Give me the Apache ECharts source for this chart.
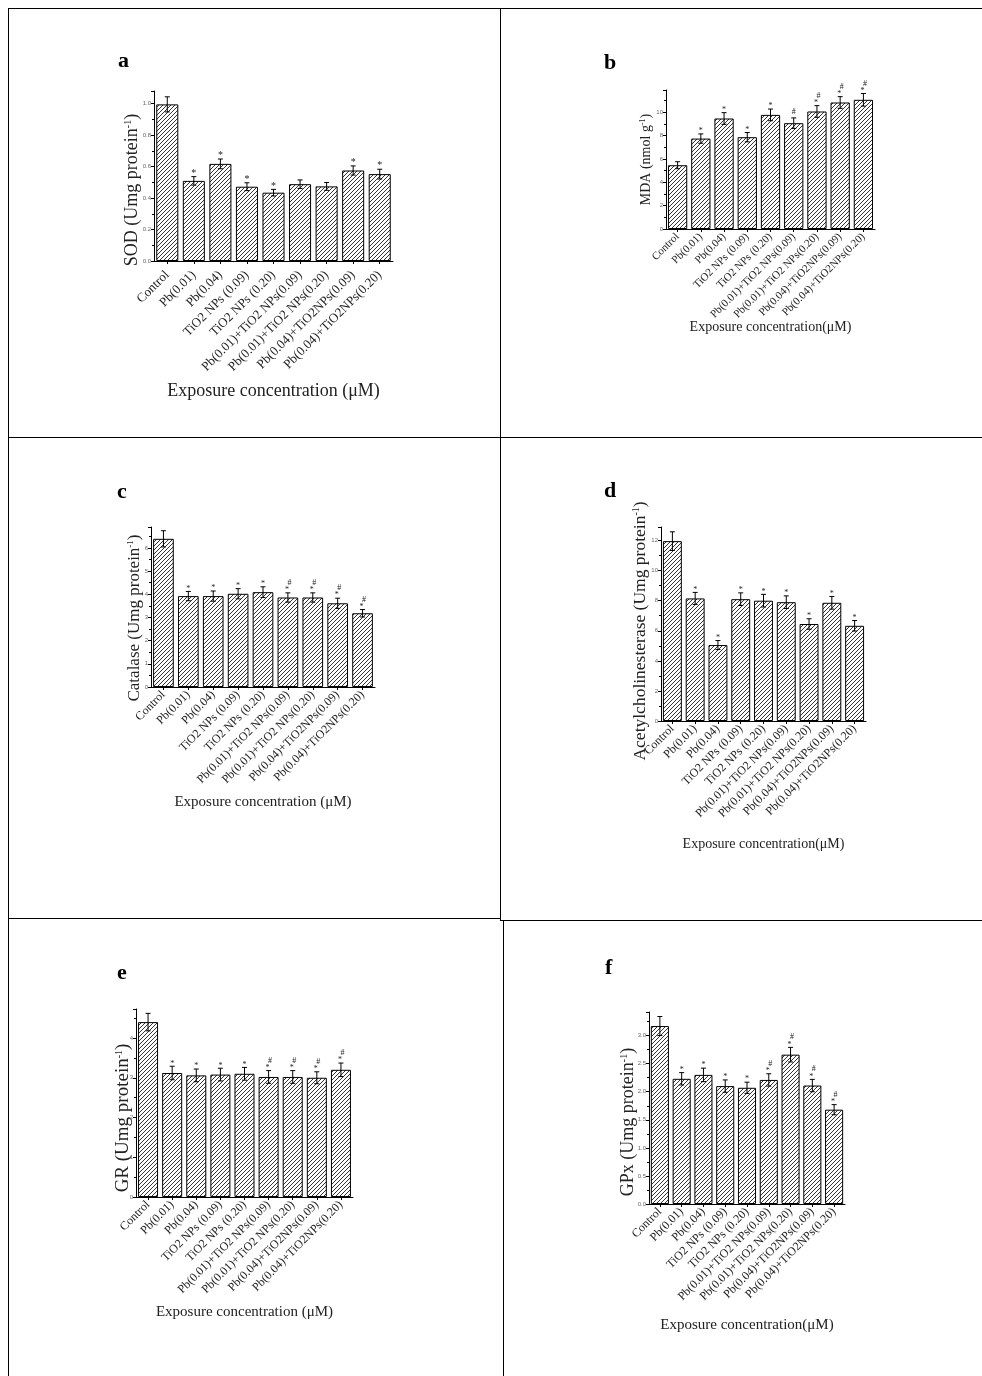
<!DOCTYPE html>
<html><head><meta charset="utf-8">
<script src="https://cdn.jsdelivr.net/npm/echarts@6/dist/echarts.min.js"></script>
<style>html,body{margin:0;padding:0;background:#fff}#c{width:982px;height:1376px}</style>
</head><body><div id="c"></div>
<script>
const categories = ['Control','Pb(0.01)','Pb(0.04)','TiO2 NPs (0.09)','TiO2 NPs (0.20)','Pb(0.01)+TiO2 NPs(0.09)','Pb(0.01)+TiO2 NPs(0.20)','Pb(0.04)+TiO2NPs(0.09)','Pb(0.04)+TiO2NPs(0.20)'];

const sodValues = [0.995,0.509,0.617,0.472,0.434,0.488,0.474,0.575,0.552];
const sodErrors = [0.048,0.027,0.031,0.025,0.021,0.027,0.025,0.029,0.031];
const sodMarks  = ['','*','*','*','*','','','*','*'];

const mdaValues = [5.46,7.74,9.46,7.86,9.77,9.06,10.06,10.83,11.06];
const mdaErrors = [0.30,0.40,0.50,0.40,0.50,0.45,0.50,0.50,0.54];
const mdaMarks  = ['','*','*','*','*','#','*#','*#','*#'];

const catValues = [6.39,3.92,3.92,4.02,4.09,3.86,3.86,3.61,3.18];
const catErrors = [0.35,0.20,0.22,0.22,0.23,0.20,0.20,0.22,0.16];
const catMarks  = ['','*','*','*','*','*#','*#','*#','*#'];

const acheValues = [11.96,8.15,5.05,8.10,8.00,7.90,6.45,7.86,6.33];
const acheErrors = [0.62,0.40,0.30,0.42,0.42,0.42,0.35,0.42,0.35];
const acheMarks  = ['','*','*','*','*','*','*','*','*'];

const grValues = [4.40,3.12,3.06,3.08,3.10,3.02,3.02,3.00,3.20];
const grErrors = [0.22,0.17,0.16,0.16,0.16,0.16,0.16,0.15,0.17];
const grMarks  = ['','*','*','*','*','*#','*#','*#','*#'];

const gpxValues = [3.17,2.23,2.30,2.10,2.07,2.21,2.66,2.11,1.68];
const gpxErrors = [0.17,0.11,0.12,0.11,0.10,0.11,0.13,0.11,0.09];
const gpxMarks  = ['','*','*','*','*','*#','*#','*#','*#'];

const panelLetters = ['a','b','c','d','e','f'];
const yTitles = ['SOD (Umg protein{sup|-1})','MDA (nmol g{sup|-1})','Catalase (Umg protein{sup|-1})','Acetylcholinesterase (Umg protein{sup|-1})','GR (Umg protein{sup|-1})','GPx (Umg protein{sup|-1})'];
const xTitles = ['Exposure concentration (\u03bcM)','Exposure concentration(\u03bcM)','Exposure concentration (\u03bcM)','Exposure concentration(\u03bcM)','Exposure concentration (\u03bcM)','Exposure concentration(\u03bcM)'];
const yMax = [1.08, 11.9, 6.9, 12.9, 4.73, 3.42];
const yInterval = [0.2, 2, 1, 2, 1, 0.5];
const yDecimals = [1, 0, 0, 0, 0, 1];

const seriesData = [
  [sodValues, sodErrors, sodMarks],
  [mdaValues, mdaErrors, mdaMarks],
  [catValues, catErrors, catMarks],
  [acheValues, acheErrors, acheMarks],
  [grValues, grErrors, grMarks],
  [gpxValues, gpxErrors, gpxMarks]
];

// layout (pixels)
const layout = [
  {left:154, top:91,   width:239, height:170, xFont:13, xMargin:12, xTitleFont:18, xGap:121, yFont:18, yGap:13, yPad:28, mFont:10, letter:[118,61]},
  {left:666, top:90,   width:209, height:139, xFont:11, xMargin:6,  xTitleFont:14, xGap:91,  yFont:14, yGap:13, yPad:0,  mFont:8,  letter:[604,63]},
  {left:151, top:527,  width:224, height:160, xFont:12, xMargin:6,  xTitleFont:15, xGap:108, yFont:17, yGap:8,  yPad:22, mFont:8,  letter:[117,492]},
  {left:661, top:527,  width:205, height:194, xFont:12, xMargin:6,  xTitleFont:14, xGap:116, yFont:17.5, yGap:12, yPad:14, mFont:8,  letter:[604,491]},
  {left:136, top:1009, width:217, height:188, xFont:12, xMargin:6,  xTitleFont:15, xGap:108, yFont:19, yGap:3,  yPad:30, mFont:8,  letter:[117,973]},
  {left:649, top:1012, width:196, height:192, xFont:12, xMargin:6,  xTitleFont:15, xGap:114, yFont:18, yGap:12, yPad:28, mFont:8,  letter:[605,968]}
];

function hatch(){
  const s = 4;
  const c = document.createElement('canvas');
  c.width = s; c.height = s;
  const g = c.getContext('2d');
  g.strokeStyle = '#111'; g.lineWidth = 0.85;
  g.beginPath();
  g.moveTo(-1, s+1); g.lineTo(s+1, -1);
  g.moveTo(-1, 1); g.lineTo(1, -1);
  g.moveTo(s-1, s+1); g.lineTo(s+1, s-1);
  g.stroke();
  return c;
}
const hatchImg = hatch();

const SERIF = 'Liberation Serif';
const grids = [], xAxes = [], yAxes = [], series = [];

layout.forEach((L, k) => {
  const [vals, errs, marks] = seriesData[k];
  grids.push({left:L.left, top:L.top, width:L.width, height:L.height, containLabel:false});
  xAxes.push({
    type:'category', gridIndex:k, data:categories,
    axisLine:{show:true, lineStyle:{color:'#000', width:1}},
    axisTick:{show:true, alignWithLabel:true, length:3, lineStyle:{color:'#000'}},
    axisLabel:{interval:0, rotate:45, fontFamily:SERIF, fontSize:L.xFont, color:'#222', margin:L.xMargin},
    name:xTitles[k], nameLocation:'middle', nameGap:L.xGap, nameMoveOverlap:false,
    nameTextStyle:{fontFamily:SERIF, fontSize:L.xTitleFont, color:'#222', verticalAlign:'top'}
  });
  const dec = yDecimals[k];
  yAxes.push({
    type:'value', gridIndex:k, min:0, max:yMax[k], interval:yInterval[k],
    axisLine:{show:true, lineStyle:{color:'#000', width:1}},
    axisTick:{show:true, length:3, lineStyle:{color:'#000'}},
    minorTick:{show:true, splitNumber:2, length:2, lineStyle:{color:'#000'}},
    splitLine:{show:false},
    axisLabel:{showMaxLabel:false, fontFamily:'Liberation Sans', fontSize:6, color:'#666', margin:3,
      formatter:v => Number(v).toFixed(dec)},
    name:yTitles[k], nameLocation:'middle', nameRotate:90, nameGap:L.yGap, nameMoveOverlap:false,
    nameTextStyle:{fontFamily:SERIF, fontSize:L.yFont, color:'#222', padding:[0, L.yPad, 0, 0],
      rich:{sup:{fontFamily:SERIF, fontSize:Math.round(L.yFont*0.55), color:'#222', verticalAlign:'top', padding:[0,0,Math.round(L.yFont*0.45),0]}}}
  });
  series.push({
    type:'bar', xAxisIndex:k, yAxisIndex:k, data:vals, barCategoryGap:'17%',
    itemStyle:{color:{image:hatchImg, repeat:'repeat'}, borderColor:'#000', borderWidth:1},
    silent:true, animation:false
  });
  series.push({
    type:'custom', xAxisIndex:k, yAxisIndex:k, z:5, animation:false, silent:true,
    data: vals.map((v,i) => [i, v]),
    encode:{x:0, y:1},
    renderItem:(params, api) => {
      const i = params.dataIndex;
      const v = vals[i], e = errs[i];
      const pT = api.coord([i, v + e]);
      const pB = api.coord([i, v - e]);
      const cap = 2.5;
      const st = {stroke:'#000', lineWidth:1};
      const ch = [
        {type:'line', shape:{x1:pT[0], y1:pT[1], x2:pB[0], y2:pB[1]}, style:st},
        {type:'line', shape:{x1:pT[0]-cap, y1:pT[1], x2:pT[0]+cap, y2:pT[1]}, style:st},
        {type:'line', shape:{x1:pB[0]-cap, y1:pB[1], x2:pB[0]+cap, y2:pB[1]}, style:st}
      ];
      const m = marks[i];
      const f = L.mFont;
      const tStyle = (t) => ({text:t, fontFamily:SERIF, fontSize:f, fill:'#222', align:'center', verticalAlign:'bottom'});
      if (m === '*') {
        ch.push({type:'text', x:pT[0], y:pT[1] + f*0.15, style:tStyle('*')});
      } else if (m === '#') {
        ch.push({type:'text', x:pT[0], y:pT[1] - 2, style:tStyle('#')});
      } else if (m === '*#') {
        ch.push({type:'text', x:pT[0] - 1, y:pT[1] + f*0.15, style:tStyle('*')});
        ch.push({type:'text', x:pT[0] + 1.5, y:pT[1] - f*0.75, style:tStyle('#')});
      }
      return {type:'group', children:ch};
    }
  });
});

const graphics = [];
const lineSt = {stroke:'#000', lineWidth:1};
[[8,8.5,982,8.5],[8.5,8,8.5,1376],[500.5,8,500.5,920],[503.5,920,503.5,1376],[8,437.5,982,437.5],[8,918.5,500,918.5],[500,920.5,982,920.5]]
  .forEach(s => graphics.push({type:'line', shape:{x1:s[0], y1:s[1], x2:s[2], y2:s[3]}, style:lineSt, silent:true}));
layout.forEach((L, k) => graphics.push({type:'text', x:L.letter[0], y:L.letter[1],
  style:{text:panelLetters[k], fontFamily:SERIF, fontWeight:'bold', fontSize:22, fill:'#000', verticalAlign:'middle'}}));

const chart = echarts.init(document.getElementById('c'), null, {renderer:'canvas'});
chart.setOption({
  animation:false,
  backgroundColor:'#fff',
  grid:grids, xAxis:xAxes, yAxis:yAxes, series:series,
  graphic:graphics
});
</script></body></html>
